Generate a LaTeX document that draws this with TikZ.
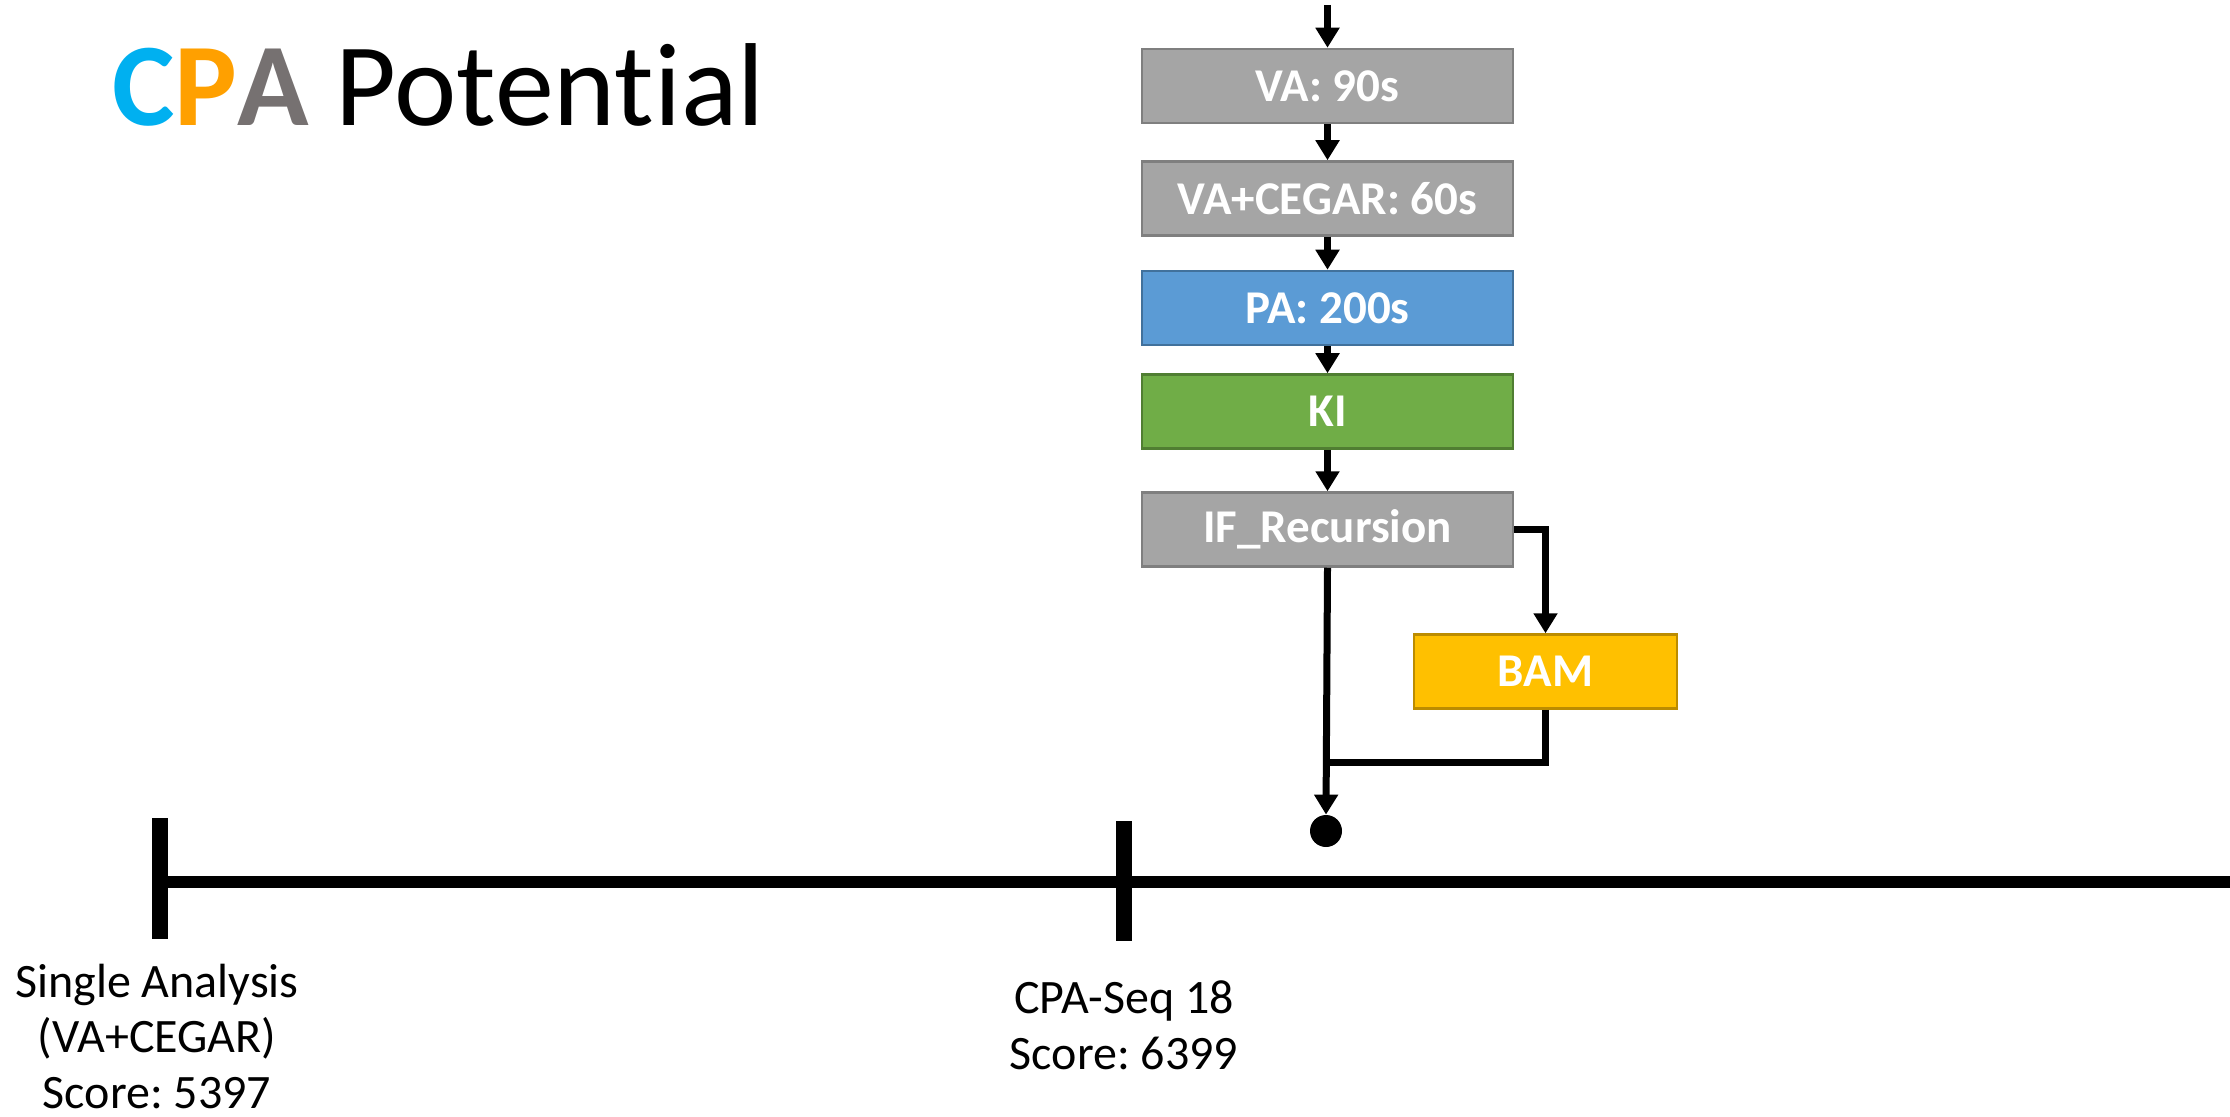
\documentclass[tikz,border=0pt]{standalone}
\usepackage{fontspec}
\setmainfont[Ligatures=NoCommon]{Carlito}
\usetikzlibrary{arrows.meta}
\definecolor{boxgray}{HTML}{A5A5A5}
\definecolor{boxgrayd}{HTML}{7F7F7F}
\definecolor{boxblue}{HTML}{5B9BD5}
\definecolor{boxblued}{HTML}{41719C}
\definecolor{boxgreen}{HTML}{70AD47}
\definecolor{boxgreend}{HTML}{507E32}
\definecolor{boxgold}{HTML}{FFC000}
\definecolor{boxgoldd}{HTML}{BC8C00}
\definecolor{cpaC}{HTML}{00B0F0}
\definecolor{cpaP}{HTML}{FFA000}
\definecolor{cpaA}{HTML}{767171}
\frenchspacing
\begin{document}
\begin{tikzpicture}[x=0.5pt,y=-0.5pt,
  box/.style={draw, line width=1.25pt, minimum width=185.5pt, minimum height=37pt, inner sep=0pt,
    font=\fontsize{23.5}{28}\selectfont\bfseries, text=white},
  graybox/.style={box, fill=boxgray, draw=boxgrayd},
  bluebox/.style={box, fill=boxblue, draw=boxblued},
  greenbox/.style={box, fill=boxgreen, draw=boxgreend},
  goldbox/.style={box, fill=boxgold, draw=boxgoldd, minimum width=131.5pt},
  arr/.style={line width=3.5pt, -{Triangle[width=11.5pt,length=10pt]}},
  conn/.style={line width=3.5pt},
  axisline/.style={line width=6pt},
  tickmark/.style={line width=8pt},
  lab/.style={font=\fontsize{24}{28}\selectfont, anchor=base, inner sep=0pt},
  title/.style={font=\fontsize{59}{64}\selectfont, anchor=base west, inner sep=0pt}
]
\useasboundingbox (0,0) rectangle (2230,1117);

% title
\node[title] (title) at (112,126) {{\bfseries\color{cpaC}C\color{cpaP}P\color{cpaA}A} Potential};

% boxes
\node[graybox]  (va)  at (1327.5,86)    {VA: 90s};
\node[graybox]  (vac) at (1327.5,198.5) {VA+CEGAR: 60s};
\node[bluebox]  (pa)  at (1327.5,308)   {PA: 200s};
\node[greenbox] (ki)  at (1327.5,411.5) {KI};
\node[graybox]  (if)  at (1327.5,529.5) {IF\_Recursion};
\node[goldbox]  (bam) at (1545.5,671.5) {BAM};
\node[circle, fill=black, minimum size=16pt, inner sep=0pt] (dot) at (1326,831) {};

\coordinate (top) at (1327.5,5);
\coordinate (join) at (1326.5,762);

\draw[arr] (top) -- (va);
\draw[arr] (va) -- (vac);
\draw[arr] (vac) -- (pa);
\draw[arr] (pa) -- (ki);
\draw[arr] (ki) -- (if);
\draw[arr] (if.east) -| (bam.north);
\draw[arr] (if.south) -- (dot.north);
\draw[conn] (bam.south) |- (join);

% timeline
\coordinate (t1) at (160,882);
\coordinate (t2) at (1124,882);
\coordinate (tend) at (2240,882);
\draw[axisline] (t1) -- (tend);
\draw[tickmark] (160,818) -- (160,939);
\draw[tickmark] (1124,821) -- (1124,941);

% labels
\node[lab] (l1a) at (157,997)  {Single Analysis};
\node[lab] (l1b) at (157,1052) {(VA+CEGAR)};
\node[lab] (l1c) at (157,1108) {Score: 5397};
\node[lab] (l2a) at (1124,1013) {CPA-Seq 18};
\node[lab] (l2b) at (1124,1069) {Score: 6399};
\end{tikzpicture}
\end{document}
